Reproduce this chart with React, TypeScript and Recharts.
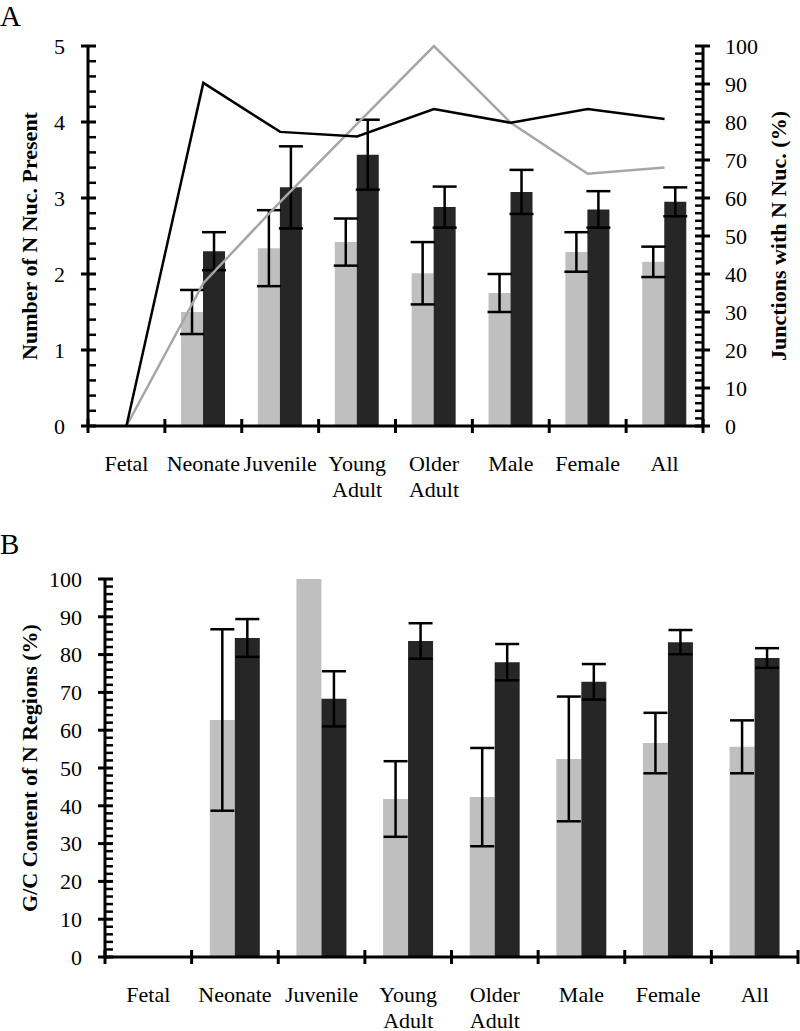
import { Bar, ComposedChart, ErrorBar, Line, XAxis, YAxis } from 'recharts'

const categories = ['Fetal', 'Neonate', 'Juvenile', 'Young Adult', 'Older Adult', 'Male', 'Female', 'All']

// panel A: number of N nucleotides (left axis) and % junctions (right axis)
const nucLight = [null, 1.5, 2.34, 2.42, 2.01, 1.75, 2.29, 2.16]
const nucLightErr = [null, 0.29, 0.5, 0.31, 0.41, 0.25, 0.26, 0.2]
const nucDark = [null, 2.3, 3.14, 3.57, 2.88, 3.08, 2.85, 2.95]
const nucDarkErr = [null, 0.25, 0.54, 0.46, 0.27, 0.29, 0.24, 0.19]
const pctGrey = [0, 37.6, 59, 79.5, 100, 79.8, 66.4, 68]
const pctBlack = [0, 90.3, 77.4, 76.2, 83.4, 79.8, 83.4, 80.8]

// panel B: G/C content of N regions
const gcLight = [null, 62.7, 100, 41.8, 42.3, 52.4, 56.6, 55.6]
const gcLightErr = [null, 24, 0, 10, 13, 16.5, 8, 7]
const gcDark = [null, 84.4, 68.3, 83.6, 78, 72.8, 83.3, 79.1]
const gcDarkErr = [null, 5, 7.3, 4.7, 4.8, 4.7, 3.2, 2.6]

const nucTicks = [0, 1, 2, 3, 4, 5]
const pctTicks = [0, 10, 20, 30, 40, 50, 60, 70, 80, 90, 100]

const dataA = categories.map((name, i) => ({
  name,
  light: nucLight[i],
  lightErr: nucLightErr[i],
  dark: nucDark[i],
  darkErr: nucDarkErr[i],
  grey: pctGrey[i],
  black: pctBlack[i],
}))

const dataB = categories.map((name, i) => ({
  name,
  light: gcLight[i],
  lightErr: gcLightErr[i],
  dark: gcDark[i],
  darkErr: gcDarkErr[i],
}))

const FONT = '"Liberation Serif", "Times New Roman", serif'
const LIGHT = '#bfbfbf'
const DARK = '#262626'

// major tick crosses the axis line; 4 minor ticks per gap sit on the inner side
function makeYTick(side: 'left' | 'right', majorPx: number, top: number) {
  return (props: any) => {
    const { x, y, payload } = props
    const v = payload.value
    const s = side === 'left' ? 1 : -1
    const step = majorPx / 5
    const minorLines = []
    if (v !== top) {
      for (let k = 1; k <= 4; k++) {
        minorLines.push(
          <line key={k} x1={x} x2={x + 8 * s} y1={y - k * step} y2={y - k * step} stroke="#000" strokeWidth={2.5} />
        )
      }
    }
    return (
      <g>
        <line x1={x - 7 * s} x2={x + 8 * s} y1={y} y2={y} stroke="#000" strokeWidth={3} />
        {minorLines}
        <text
          x={side === 'left' ? x - 23 : x + 22}
          y={y}
          dy="0.35em"
          textAnchor={side === 'left' ? 'end' : 'start'}
          fontSize={22}
          fontFamily={FONT}
          fill="#000"
        >
          {v}
        </text>
      </g>
    )
  }
}

function makeXTick(band: number) {
  return (props: any) => {
    const { x, y, payload, index } = props
    const words = String(payload.value).split(' ')
    return (
      <g>
        <line x1={x - band / 2} x2={x - band / 2} y1={y - 7} y2={y + 7} stroke="#000" strokeWidth={3} />
        {index === categories.length - 1 && (
          <line x1={x + band / 2} x2={x + band / 2} y1={y - 7} y2={y + 7} stroke="#000" strokeWidth={3} />
        )}
        <text x={x} y={y + 45} textAnchor="middle" fontSize={22} fontFamily={FONT} fill="#000">
          {words.map((w, i) => (
            <tspan key={w} x={x} dy={i === 0 ? 0 : 26}>
              {w}
            </tspan>
          ))}
        </text>
      </g>
    )
  }
}

function axisTitle(text: string, dx: number) {
  return (props: any) => {
    const vb = props.viewBox
    const cx = vb.x + dx
    const cy = vb.y + vb.height / 2
    return (
      <text
        x={cx}
        y={cy}
        transform={`rotate(-90 ${cx} ${cy})`}
        textAnchor="middle"
        dy="0.35em"
        fontSize={22}
        fontWeight="bold"
        fontFamily={FONT}
        fill="#000"
      >
        {text}
      </text>
    )
  }
}

export default function App() {
  const plotHA = 515 - 46 - 29 - 60
  const plotHB = 511 - 59 - 14 - 60
  const bandA = (800 - 88 - 97) / categories.length
  const bandB = (800 - 105 - 2) / categories.length
  return (
    <div style={{ position: 'absolute', left: 0, top: 0, width: 800, height: 1031, background: '#fff', fontFamily: FONT }}>
      <div style={{ position: 'absolute', left: 0, top: 0, fontSize: 29, lineHeight: '32px' }}>A</div>
      <div style={{ position: 'absolute', left: 0, top: 0 }}>
        <ComposedChart
          width={800}
          height={515}
          data={dataA}
          margin={{ top: 46, right: 0, bottom: 29, left: 0 }}
          barCategoryGap="21%"
          barGap={0}
        >
          <XAxis
            dataKey="name"
            height={60}
            interval={0}
            tickSize={0}
            tickMargin={0}
            axisLine={{ stroke: '#000', strokeWidth: 3 }}
            tickLine={false}
            tick={makeXTick(bandA)}
          />
          <YAxis
            yAxisId="nuc"
            width={88}
            domain={[0, 5]}
            ticks={nucTicks}
            interval={0}
            tickSize={0}
            tickMargin={0}
            axisLine={{ stroke: '#000', strokeWidth: 3 }}
            tickLine={false}
            tick={makeYTick('left', plotHA / 5, 5)}
            label={{ content: axisTitle('Number of N Nuc. Present', 29) }}
          />
          <YAxis
            yAxisId="pct"
            orientation="right"
            width={97}
            domain={[0, 100]}
            ticks={pctTicks}
            interval={0}
            tickSize={0}
            tickMargin={0}
            axisLine={{ stroke: '#000', strokeWidth: 3 }}
            tickLine={false}
            tick={makeYTick('right', plotHA / 10, 100)}
            label={{ content: axisTitle('Junctions with N Nuc. (%)', 75) }}
          />
          <Bar yAxisId="nuc" dataKey="light" fill={LIGHT} isAnimationActive={false}>
            <ErrorBar dataKey="lightErr" width={12} stroke="#000" strokeWidth={2.5} isAnimationActive={false} />
          </Bar>
          <Bar yAxisId="nuc" dataKey="dark" fill={DARK} isAnimationActive={false}>
            <ErrorBar dataKey="darkErr" width={12} stroke="#000" strokeWidth={2.5} isAnimationActive={false} />
          </Bar>
          <Line yAxisId="pct" type="linear" dataKey="grey" stroke="#a6a6a6" strokeWidth={2.5} dot={false} isAnimationActive={false} />
          <Line yAxisId="pct" type="linear" dataKey="black" stroke="#000" strokeWidth={2.5} dot={false} isAnimationActive={false} />
        </ComposedChart>
      </div>

      <div style={{ position: 'absolute', left: 0, top: 528, fontSize: 29, lineHeight: '32px' }}>B</div>
      <div style={{ position: 'absolute', left: 0, top: 520 }}>
        <ComposedChart
          width={800}
          height={511}
          data={dataB}
          margin={{ top: 59, right: 2, bottom: 14, left: 0 }}
          barCategoryGap="21%"
          barGap={0}
        >
          <XAxis
            dataKey="name"
            height={60}
            interval={0}
            tickSize={0}
            tickMargin={0}
            axisLine={{ stroke: '#000', strokeWidth: 3 }}
            tickLine={false}
            tick={makeXTick(bandB)}
          />
          <YAxis
            width={105}
            domain={[0, 100]}
            ticks={pctTicks}
            interval={0}
            tickSize={0}
            tickMargin={0}
            axisLine={{ stroke: '#000', strokeWidth: 3 }}
            tickLine={false}
            tick={makeYTick('left', plotHB / 10, 100)}
            label={{ content: axisTitle('G/C Content of N Regions (%)', 29) }}
          />
          <Bar dataKey="light" fill={LIGHT} isAnimationActive={false}>
            <ErrorBar dataKey="lightErr" width={12} stroke="#000" strokeWidth={2.5} isAnimationActive={false} />
          </Bar>
          <Bar dataKey="dark" fill={DARK} isAnimationActive={false}>
            <ErrorBar dataKey="darkErr" width={12} stroke="#000" strokeWidth={2.5} isAnimationActive={false} />
          </Bar>
        </ComposedChart>
      </div>
    </div>
  )
}
